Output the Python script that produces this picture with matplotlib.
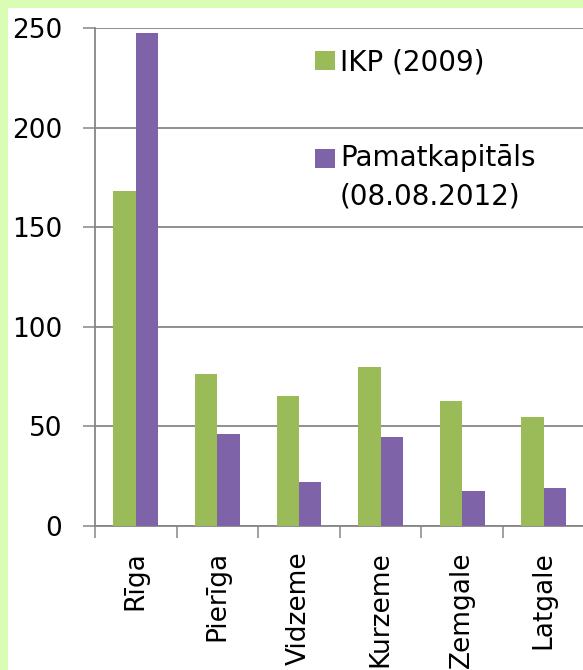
import matplotlib
matplotlib.use("Agg")
import matplotlib.pyplot as plt
from matplotlib.patches import Rectangle, Patch
from matplotlib.legend_handler import HandlerPatch
import numpy as np

regions = ["Rīga", "Pierīga", "Vidzeme", "Kurzeme", "Zemgale", "Latgale"]
ikp_2009 = [168.5, 76.4, 65.5, 79.7, 63.0, 54.6]
pamatkapitals = [247.6, 46.2, 22.3, 44.9, 17.6, 18.9]
series_names = ["IKP (2009)", "Pamatkapitāls\n(08.08.2012)"]
y_ticks = [0, 50, 100, 150, 200, 250]

green = "#9BBB59"
purple = "#7E63A8"
grid_gray = "#868686"

plt.rcParams["font.family"] = ["DejaVu Sans"]

fig = plt.figure(figsize=(5.83, 6.70), dpi=100)
fig.patch.set_facecolor("white")

# light green frame at top and left (screenshot border)
fig.patches.append(Rectangle((0, 1 - 8 / 670), 1, 8 / 670, transform=fig.transFigure,
                             facecolor="#DAFDB5", edgecolor="none", zorder=0))
fig.patches.append(Rectangle((0, 0), 8 / 583, 1, transform=fig.transFigure,
                             facecolor="#DAFDB5", edgecolor="none", zorder=0))

left = 95 / 583
bottom = (670 - 526) / 670
top = (670 - 28.3) / 670
ax = fig.add_axes([left, bottom, 1 - left, top - bottom])

x = np.arange(len(regions))
w = 0.275
ax.bar(x - w / 2, ikp_2009, w, color=green, zorder=3)
ax.bar(x + w / 2, pamatkapitals, w, color=purple, zorder=3)

ax.set_xlim(-0.5, -0.5 + (583 - 95) / 81.6)
ax.set_ylim(0, 250)

ax.set_yticks(y_ticks)
ax.yaxis.grid(True, color=grid_gray, linewidth=1.3)
ax.set_axisbelow(True)
ax.tick_params(axis="y", length=8.6, width=1.1, color=grid_gray, pad=15, labelsize=19)

ax.set_xticks(x)
ax.set_xticklabels(regions, rotation=90, fontsize=19)
ax.set_xticks(np.arange(len(regions)) - 0.5, minor=True)
ax.tick_params(axis="x", which="major", length=0, pad=18)
ax.tick_params(axis="x", which="minor", length=8.6, width=1.1, color=grid_gray)

for side in ["top", "right"]:
    ax.spines[side].set_visible(False)
for side in ["left", "bottom"]:
    ax.spines[side].set_color(grid_gray)
    ax.spines[side].set_linewidth(1.3)


# handle for the two-line label sits next to the first line
def shifted_box(shift):
    def f(legend, orig_handle, xdescent, ydescent, width, height, fontsize):
        return Rectangle((-xdescent, -ydescent + shift), width, height)
    return f


h1 = Patch(facecolor=green)
h2 = Patch(facecolor=purple)
leg = ax.legend([h1, h2], series_names, loc="upper left",
                bbox_to_anchor=((315 - 95) / 488, 1 - 20 / 497),
                frameon=False, fontsize=20, handlelength=0.72, handleheight=0.68,
                handletextpad=0.18, labelspacing=2.42, borderaxespad=0, borderpad=0,
                handler_map={h2: HandlerPatch(patch_func=shifted_box(14))})
for t in leg.get_texts():
    t.set_linespacing(1.5)

fig.savefig("out.png", dpi=100)
